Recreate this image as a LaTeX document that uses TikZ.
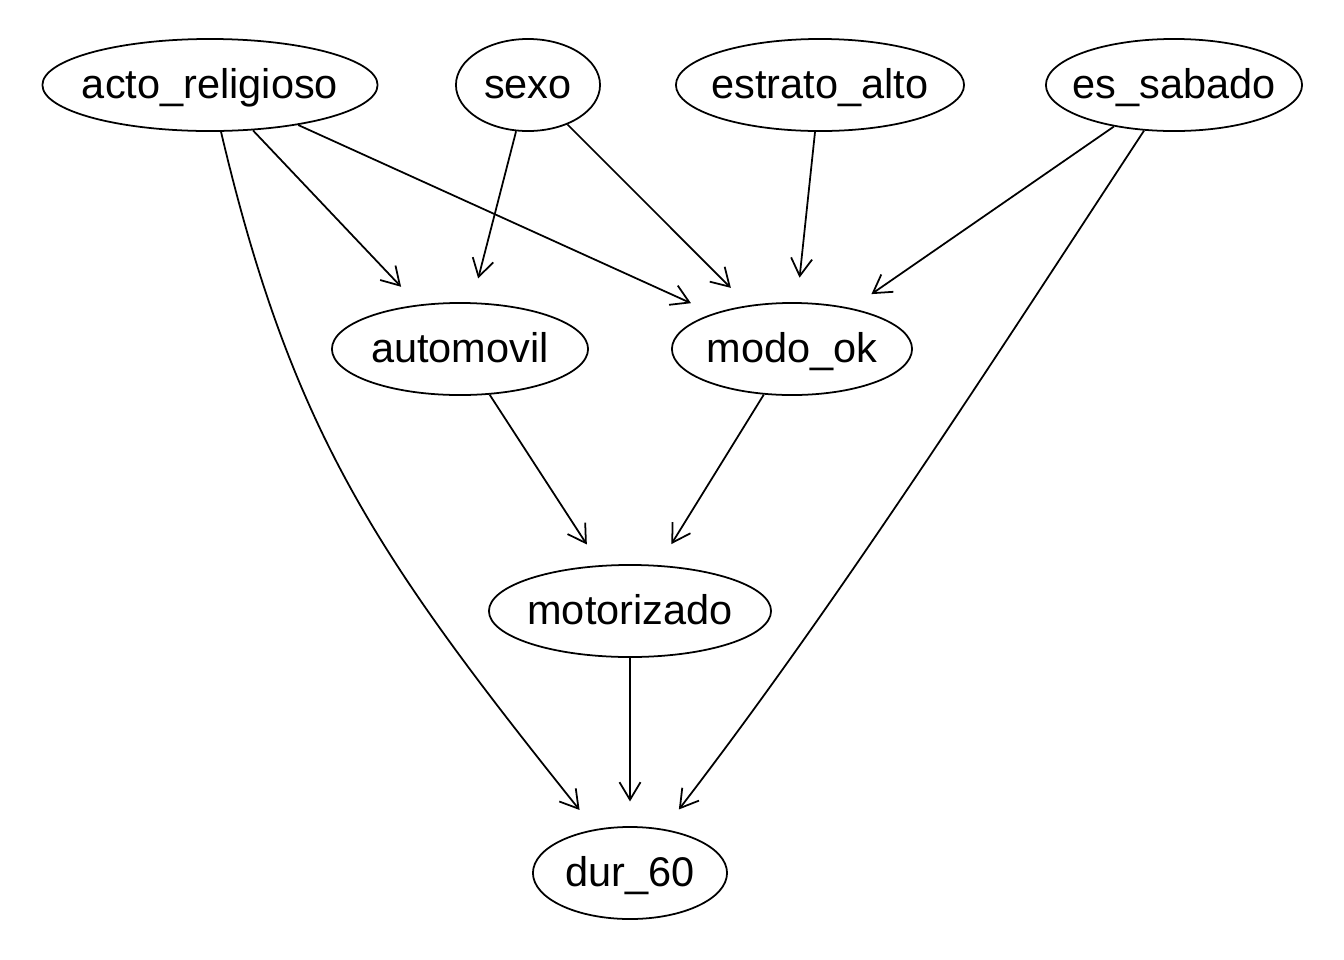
\documentclass[tikz,border=0pt]{standalone}
\usepackage{fontspec}
\setmainfont{Liberation Sans}
\usetikzlibrary{shapes.geometric,arrows.meta}

\begin{document}
\begin{tikzpicture}[x=0.01cm,y=-0.01cm,>={Straight Barb[length=5pt,width=6pt]},
    font=\fontsize{11.8pt}{14pt}\selectfont,
    vtx/.style={draw,ellipse,line width=0.5pt,inner sep=0pt,minimum height=0.92cm,
      text height=0.86em,text depth=0.1em},
    edge/.style={->,line width=0.5pt,shorten >=7pt}]
    \useasboundingbox (0,0) rectangle (1344,960);
    % top row
    \node[vtx,minimum width=3.35cm] (acto) at (210,85) {\makebox[0pt]{acto\_religioso}};
    \node[vtx,minimum width=1.44cm] (sexo) at (528,85) {\makebox[0pt]{sexo}};
    \node[vtx,minimum width=2.88cm] (estrato) at (820,85) {\makebox[0pt]{estrato\_alto}};
    \node[vtx,minimum width=2.56cm] (sabado) at (1174,85) {\makebox[0pt]{es\_sabado}};
    % middle rows
    \node[vtx,minimum width=2.56cm] (auto) at (460,349) {\makebox[0pt]{automovil}};
    \node[vtx,minimum width=2.40cm] (modo) at (792,349) {\makebox[0pt]{modo\_ok}};
    \node[vtx,minimum width=2.82cm] (motor) at (630,611) {\makebox[0pt]{motorizado}};
    % bottom
    \node[vtx,minimum width=1.94cm] (dur) at (630,873) {\makebox[0pt]{dur\_60}};
    % arcs
    \draw[edge] (acto) -- (auto);
    \draw[edge] (acto) -- (modo);
    \draw[edge] (sexo) -- (auto);
    \draw[edge] (sexo) -- (modo);
    \draw[edge] (estrato) -- (modo);
    \draw[edge] (sabado) -- (modo);
    \draw[edge] (auto) -- (motor);
    \draw[edge] (modo) -- (motor);
    \draw[edge] (motor) -- (dur);
    \draw[edge] (acto) .. controls (292,433) and (378,558) .. (dur);
    \draw[edge] (sabado) .. controls (1000,350) and (840,600) .. (dur);
\end{tikzpicture}
\end{document}
